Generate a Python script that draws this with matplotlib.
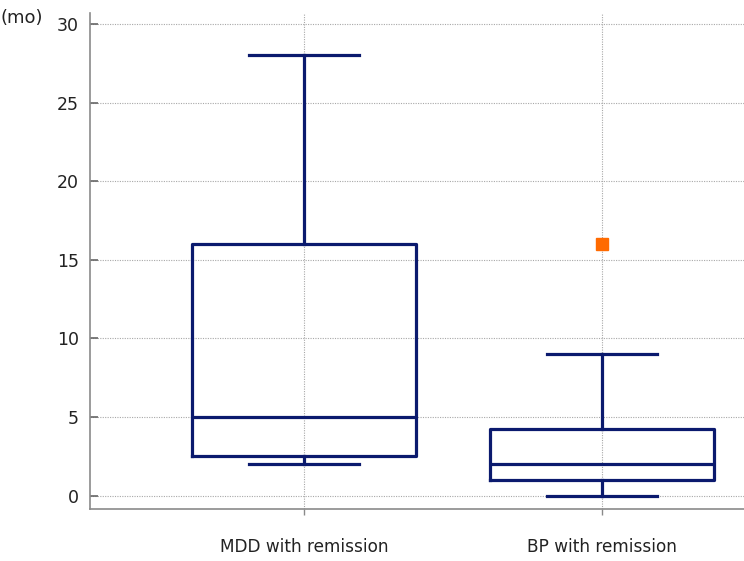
import matplotlib
matplotlib.use('Agg')
import matplotlib.pyplot as plt

# data
groups = ['MDD with remission', 'BP with remission']
whis_lo = [2, 0]
q1 = [2.5, 1]
median = [5, 2]
q3 = [16, 4.25]
whis_hi = [28, 9]
outliers = [[], [16]]
yticks = [0, 5, 10, 15, 20, 25, 30]

navy = '#0b1a6e'
grey = '#8a8a8a'

plt.rcParams['font.family'] = ['Verdana', 'DejaVu Sans']

fig = plt.figure(figsize=(7.44, 5.61), dpi=100)
ax = fig.add_axes([0.121, 0.093, 0.879, 0.884])

stats = []
for i, name in enumerate(groups):
    stats.append({'label': name, 'whislo': whis_lo[i], 'q1': q1[i], 'med': median[i],
                  'q3': q3[i], 'whishi': whis_hi[i], 'fliers': outliers[i]})

ax.bxp(stats, positions=[1, 2], widths=0.75, capwidths=0.37, showfliers=True,
       boxprops=dict(color=navy, linewidth=2.3),
       whiskerprops=dict(color=navy, linewidth=2.3),
       capprops=dict(color=navy, linewidth=2.3),
       medianprops=dict(color=navy, linewidth=2.3),
       flierprops=dict(marker='s', markerfacecolor='#ff6a00', markeredgecolor='#ff6a00',
                       markersize=8))

ax.set_xlim(0.282, 2.476)
ax.set_ylim(-0.83, 30.7)
ax.set_yticks(yticks)
ax.grid(True, linestyle=(0, (1, 1.2)), color='#a8a8a8', linewidth=0.8)
ax.set_axisbelow(True)

for s in ['top', 'right']:
    ax.spines[s].set_visible(False)
for s in ['left', 'bottom']:
    ax.spines[s].set_color(grey)
    ax.spines[s].set_linewidth(1.2)

ax.tick_params(axis='y', direction='in', colors='#666666', labelcolor='#222222', labelsize=12.5,
               length=6, width=1.2, pad=8)
ax.tick_params(axis='x', colors=grey, labelcolor='#222222', labelsize=12.2, length=4, width=1, pad=17)

fig.text(0.0, 0.968, '(mo)', fontsize=13, color='#222222', ha='left', va='center')

fig.savefig('out.png', dpi=100)
